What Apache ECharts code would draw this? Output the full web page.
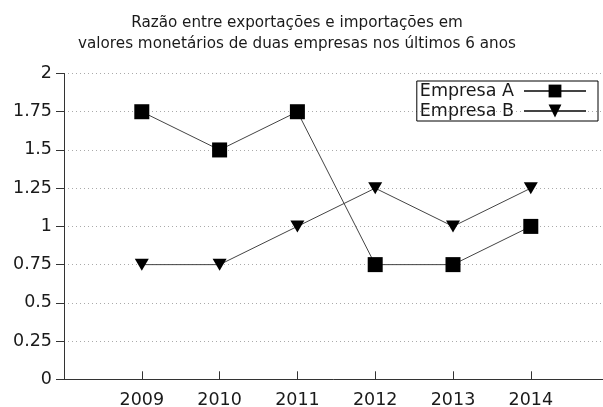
<!DOCTYPE html>
<html><head><meta charset="utf-8">
<script src="https://cdn.jsdelivr.net/npm/echarts@6/dist/echarts.min.js"></script>
<style>html,body{margin:0;padding:0;background:#fff}#c{width:603px;height:407px}</style>
</head><body><div id="c"></div>
<script>
const years = [2009, 2010, 2011, 2012, 2013, 2014];
const empresaA = [1.75, 1.5, 1.75, 0.75, 0.75, 1];
const empresaB = [0.75, 0.75, 1, 1.25, 1, 1.25];
const yTicks = [0, 0.25, 0.5, 0.75, 1, 1.25, 1.5, 1.75, 2];
const seriesNames = ['Empresa A', 'Empresa B'];
const titleText = 'Razão entre exportações e importações em\nvalores monetários de duas empresas nos últimos 6 anos';

const font = 'DejaVu Sans';
const chart = echarts.init(document.getElementById('c'), null, {renderer: 'canvas'});
chart.setOption({
  animation: false,
  backgroundColor: '#fff',
  textStyle: {fontFamily: font},
  title: {
    text: titleText,
    left: 292, top: 8, textAlign: 'center',
    textStyle: {fontFamily: font, fontSize: 15.2, fontWeight: 'normal', color: '#1a1a1a', lineHeight: 20.5}
  },
  legend: {
    data: seriesNames,
    orient: 'vertical', align: 'right',
    right: 5, top: 81,
    itemWidth: 62, itemHeight: 16, itemGap: 0,
    padding: [0, 11, 0, 3],
    borderColor: '#000', borderWidth: 1, borderRadius: 0,
    textStyle: {fontFamily: font, fontSize: 17.5, color: '#1a1a1a', lineHeight: 20, padding: [0, 5, 0, 0]}
  },
  grid: {left: 64, top: 73.5, width: 544.6, height: 305.8, containLabel: false, outerBoundsMode: 'none'},
  xAxis: {
    type: 'value', min: 2008, max: 2015, interval: 1,
    axisLine: {lineStyle: {color: '#333', width: 1}},
    axisTick: {inside: true, length: 8, lineStyle: {color: '#333'}},
    axisLabel: {
      fontFamily: font, fontSize: 17.5, color: '#1a1a1a', margin: 12.5,
      formatter: v => (years.indexOf(v) >= 0 ? String(v) : '')
    },
    splitLine: {show: false}
  },
  yAxis: {
    type: 'value', min: yTicks[0], max: yTicks[yTicks.length - 1], interval: 0.25,
    axisLine: {show: true, lineStyle: {color: '#333', width: 1}},
    axisTick: {show: true, inside: false, length: 8, lineStyle: {color: '#333'}},
    axisLabel: {fontFamily: font, fontSize: 17.5, color: '#1a1a1a', margin: 12, formatter: v => String(v)},
    splitLine: {show: true, lineStyle: {color: '#aaa', width: 1, type: [1, 3]}}
  },
  series: [
    {
      name: seriesNames[0], type: 'line',
      data: years.map((y, i) => [y, empresaA[i]]),
      symbol: 'rect', symbolSize: 15,
      lineStyle: {color: '#444', width: 1},
      itemStyle: {color: '#000'},
      color: '#444'
    },
    {
      name: seriesNames[1], type: 'line',
      data: years.map((y, i) => [y, empresaB[i]]),
      symbol: 'triangle', symbolSize: [14, 12], symbolRotate: 180,
      lineStyle: {color: '#444', width: 1},
      itemStyle: {color: '#000'},
      color: '#444'
    }
  ]
});
</script></body></html>
